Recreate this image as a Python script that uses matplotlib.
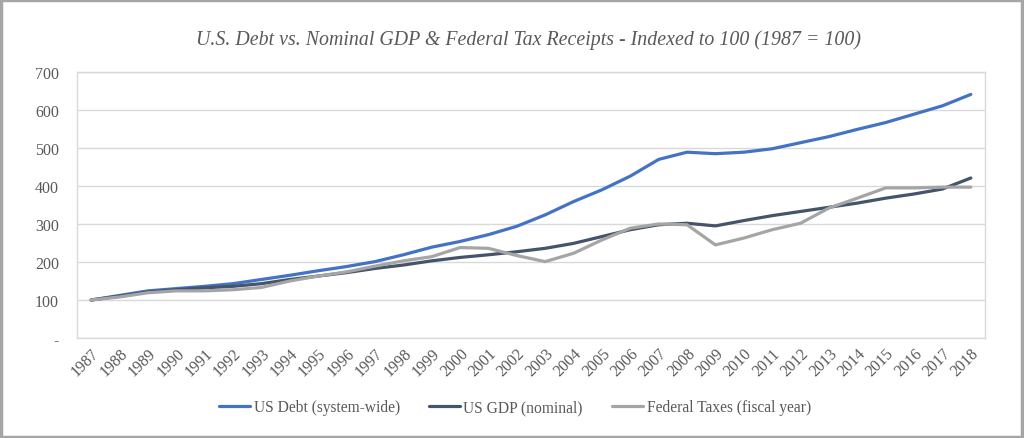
import numpy as np
from matplotlib import pyplot as plt
from matplotlib.patches import Rectangle

years = list(range(1987, 2019))

us_debt = [100, 112, 124, 130, 136, 143, 154, 165, 177, 188, 201, 219, 239, 254,
           272, 294, 324, 359, 390, 426, 470, 489, 485, 489, 498, 514, 530, 549,
           567, 589, 611, 641]
us_gdp = [100, 110, 121, 127, 132, 136, 143, 154, 163, 172, 183, 192, 203, 212,
          219, 227, 236, 249, 267, 285, 298, 302, 295, 309, 322, 333, 344, 355,
          368, 379, 392, 421]
fed_taxes = [100, 108, 119, 124, 124, 127, 133, 150, 163, 174, 189, 203, 214, 238,
             236, 217, 201, 223, 258, 289, 300, 298, 245, 263, 285, 302, 342, 368,
             395, 395, 397, 397]

y_ticks = [0, 100, 200, 300, 400, 500, 600, 700]
y_labels = ['-', '100', '200', '300', '400', '500', '600', '700']

plt.rcParams['font.family'] = ['Liberation Serif', 'DejaVu Serif']
txt = '#595959'

fig = plt.figure(figsize=(10.24, 4.39), dpi=100)
ax = fig.add_axes([77 / 1024, 1 - 339 / 439, 908 / 1024, 266 / 439])

x = np.arange(len(years))
ax.plot(x, us_debt, color='#4472C4', lw=2.3, solid_joinstyle='round',
        solid_capstyle='round', label='US Debt (system-wide)', zorder=3)
ax.plot(x, us_gdp, color='#44546A', lw=2.3, solid_joinstyle='round',
        solid_capstyle='round', label='US GDP (nominal)', zorder=3)
ax.plot(x, fed_taxes, color='#A5A5A5', lw=2.3, solid_joinstyle='round',
        solid_capstyle='round', label='Federal Taxes (fiscal year)', zorder=3)

ax.set_xlim(-0.5, len(years) - 0.5)
ax.set_ylim(0, 700)
ax.set_yticks(y_ticks)
ax.set_yticklabels(y_labels)
ax.set_xticks(x)
ax.set_xticklabels([str(y) for y in years], rotation=45, ha='right',
                   rotation_mode='anchor')
ax.tick_params(axis='both', length=0, colors=txt, labelsize=11.5)
ax.tick_params(axis='y', pad=13)
ax.tick_params(axis='x', pad=5)
ax.grid(axis='y', color='#d9d9d9', lw=1)
ax.set_axisbelow(True)
for s in ax.spines.values():
    s.set_color('#d9d9d9')
    s.set_linewidth(1)

fig.text(529 / 1024, 1 - 40 / 439,
         'U.S. Debt vs. Nominal GDP & Federal Tax Receipts - Indexed to 100 (1987 = 100)',
         ha='center', va='center', fontsize=14.3, style='italic', color=txt)

fig.legend(loc='center', bbox_to_anchor=(515 / 1024, 1 - 408 / 439), ncol=3,
           frameon=False, fontsize=11.2, handlelength=2.0, handletextpad=0.2,
           columnspacing=1.9, labelcolor=txt)

fig.patches.append(Rectangle((0.001, 0.002), 0.997, 0.995, transform=fig.transFigure,
                             fill=False, edgecolor='#a6a6a6', lw=2.5))

fig.savefig('out.png', dpi=100)
